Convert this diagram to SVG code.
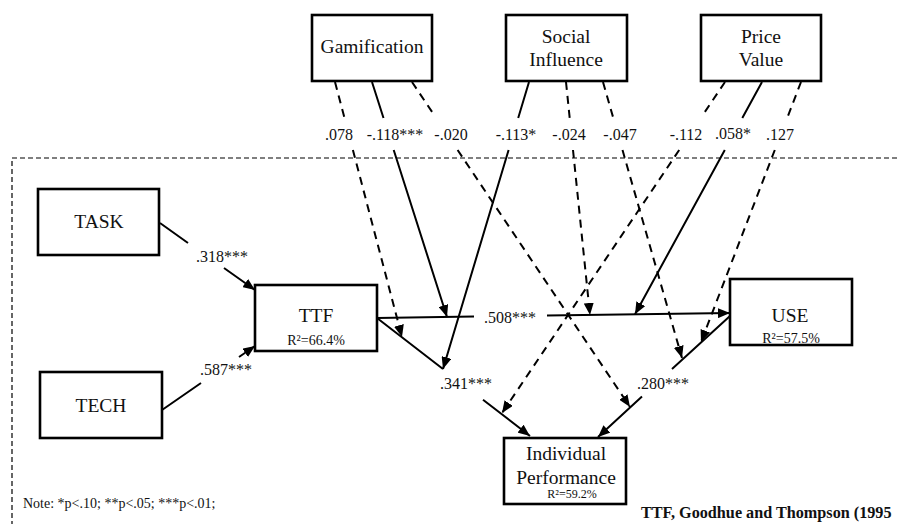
<svg xmlns="http://www.w3.org/2000/svg" width="897" height="524" viewBox="0 0 897 524" font-family="'Liberation Serif', 'DejaVu Serif', serif">
<style>
text{font-family:'Liberation Serif','DejaVu Serif',serif}
.box{fill:#fff;stroke:#000;stroke-width:2.6}
.t{fill:#111;text-anchor:middle}
.n{font-size:19.5px}
.r{font-size:14px}
.l{font-size:16px}
.c{fill:none;stroke:#000;stroke-width:2}
.d{stroke-dasharray:8 6}
.frame{fill:none;stroke:#000;stroke-width:1.2;stroke-dasharray:5 3}
</style>
<defs>
<marker id="ah" viewBox="0 0 12 10" refX="12" refY="5" markerWidth="12" markerHeight="10" markerUnits="userSpaceOnUse" orient="auto">
<path d="M0,0 L12,5 L0,10 z" fill="#000"/>
</marker>
</defs>
<rect width="897" height="524" fill="#fff"/>
<rect class="frame" x="12" y="158" width="900" height="420"/>

<g id="connectors">
<path class="c" d="M160,223 L188,243 M224,268 L255,290" marker-end="url(#ah)"/>
<path class="c" d="M162,410 L201,383 M239,357 L255,346" marker-end="url(#ah)"/>
<path class="c" d="M377,318 L474,316.6 M547,315.6 L730,313" marker-end="url(#ah)"/>
<path class="c" d="M377,318 L443,369 M483,399.7 L530,436" marker-end="url(#ah)"/>
<path class="c" d="M730,316 L672,369 M642,396.5 L598,437" marker-end="url(#ah)"/>

<path class="c d" d="M335,82 L344.5,118 M352.9,150 L402,337" marker-end="url(#ah)"/>
<path class="c" d="M372,82 L383.5,118 M393.7,150 L447,317" marker-end="url(#ah)"/>
<path class="c d" d="M412,82 L434.8,116 M457.6,150 L630,407" marker-end="url(#ah)"/>
<path class="c" d="M529,82 L518.2,118 M508.6,150 L443,369" marker-end="url(#ah)"/>
<path class="c d" d="M566,82 L569.7,118 M573,150 L590,315" marker-end="url(#ah)"/>
<path class="c d" d="M603,82 L613.3,118 M622.5,150 L682,358" marker-end="url(#ah)"/>
<path class="c d" d="M725,82 L702.1,116 M679.2,150 L502,413" marker-end="url(#ah)"/>
<path class="c" d="M762,82 L742.3,118 M724.8,150 L635,314.3" marker-end="url(#ah)"/>
<path class="c d" d="M801,82 L787.2,118 M774.8,150 L701,342" marker-end="url(#ah)"/>
</g>

<g id="labels">
<text class="t l" x="222" y="262">.318***</text>
<text class="t l" x="226" y="375">.587***</text>
<text class="t l" x="510" y="323">.508***</text>
<text class="t l" x="466" y="389">.341***</text>
<text class="t l" x="663" y="389">.280***</text>
<text class="t l" x="339" y="140">.078</text>
<text class="t l" x="395" y="140">-.118***</text>
<text class="t l" x="451" y="140">-.020</text>
<text class="t l" x="516" y="140">-.113*</text>
<text class="t l" x="569" y="140">-.024</text>
<text class="t l" x="620" y="140">-.047</text>
<text class="t l" x="686" y="140">-.112</text>
<text class="t l" x="733" y="139">.058*</text>
<text class="t l" x="780" y="140">.127</text>
</g>

<g id="gamification">
<rect class="box" x="312" y="15" width="120" height="66"/>
<text class="t n" x="372" y="53">Gamification</text>
</g>
<g id="social-influence">
<rect class="box" x="506" y="15" width="121" height="66"/>
<text class="t n" x="566" y="43">Social</text>
<text class="t n" x="566" y="66">Influence</text>
</g>
<g id="price-value">
<rect class="box" x="701" y="15" width="120" height="66"/>
<text class="t n" x="761" y="43">Price</text>
<text class="t n" x="761" y="66">Value</text>
</g>
<g id="task">
<rect class="box" x="38" y="189" width="121" height="66"/>
<text class="t n" x="99" y="228">TASK</text>
</g>
<g id="tech">
<rect class="box" x="40" y="372" width="122" height="66"/>
<text class="t n" x="101" y="412">TECH</text>
</g>
<g id="ttf">
<rect class="box" x="255" y="285" width="122" height="66"/>
<text class="t n" x="316" y="322">TTF</text>
<text class="t r" x="316" y="345">R²=66.4%</text>
</g>
<g id="use">
<rect class="box" x="730" y="279" width="122" height="66"/>
<text class="t n" x="790" y="322">USE</text>
<text class="t r" x="791" y="343">R²=57.5%</text>
</g>
<g id="individual-performance">
<rect class="box" x="504" y="438" width="122" height="66"/>
<text class="t n" x="566" y="460">Individual</text>
<text class="t n" x="566" y="484">Performance</text>
<text class="t" style="font-size:12px" x="572" y="498">R²=59.2%</text>
</g>

<text class="t" style="font-size:14px;text-anchor:start" x="23" y="508">Note: *p&lt;.10; **p&lt;.05; ***p&lt;.01;</text>
<text class="t" style="font-size:16.2px;font-weight:bold;text-anchor:start" x="641" y="518">TTF, Goodhue and Thompson (1995</text>
</svg>
